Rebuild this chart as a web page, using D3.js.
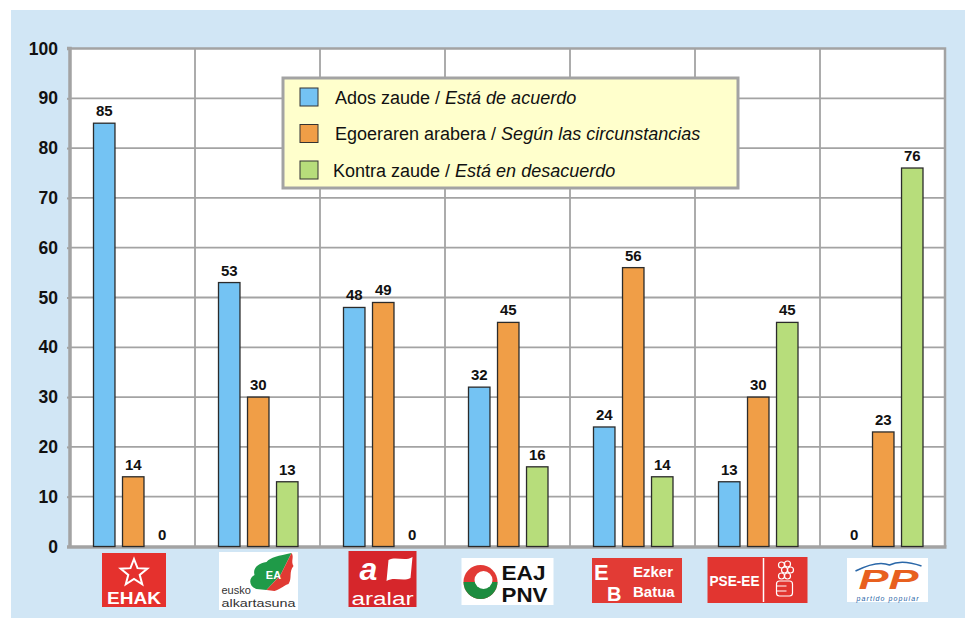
<!DOCTYPE html>
<html>
<head>
<meta charset="utf-8">
<script src="https://cdn.jsdelivr.net/npm/d3@7"></script>
<style>
  body { margin: 0; background: #fff; }
  svg { display: block; font-family: Arial, "Liberation Sans", sans-serif; }
</style>
</head>
<body>
<svg id="chart" width="965" height="618"></svg>
<script>
// data
const parties = ['EHAK', 'EA', 'Aralar', 'EAJ-PNV', 'EB', 'PSE-EE', 'PP'];
const seriesKeys = ['ados', 'egoera', 'kontra'];
const seriesBasque = ['Ados zaude / ', 'Egoeraren arabera / ', 'Kontra zaude / '];
const seriesSpanish = ['Está de acuerdo', 'Según las circunstancias', 'Está en desacuerdo'];
const adosValues = [85, 53, 48, 32, 24, 13, 0];
const egoeraValues = [14, 30, 49, 45, 56, 30, 23];
const kontraValues = [0, 13, 0, 16, 14, 45, 76];
const yTicks = [0, 10, 20, 30, 40, 50, 60, 70, 80, 90, 100];

const colors = { ados: '#74c3f3', egoera: '#f09e47', kontra: '#b7dd7b' };
const gridColor = '#a3a3a3';

const rows = parties.map((p, i) => ({
  party: p,
  ados: adosValues[i],
  egoera: egoeraValues[i],
  kontra: kontraValues[i]
}));

const svg = d3.select('#chart');

// light blue panel
svg.append('rect')
  .attr('x', 11).attr('y', 10)
  .attr('width', 954).attr('height', 608)
  .attr('fill', '#d1e6f5');

const plot = { left: 70, right: 945, top: 48.5, bottom: 546.5 };

const x0 = d3.scaleBand()
  .domain(parties)
  .range([plot.left, plot.right]);

const x1 = d3.scaleBand()
  .domain(seriesKeys)
  .range([23.5, 103])
  .paddingInner(0.26);

const y = d3.scaleLinear()
  .domain([0, 100])
  .range([plot.bottom, plot.top]);

// plot background
svg.append('rect')
  .attr('x', plot.left).attr('y', plot.top)
  .attr('width', plot.right - plot.left)
  .attr('height', plot.bottom - plot.top)
  .attr('fill', '#fff');

// horizontal grid
svg.append('g')
  .selectAll('line')
  .data(yTicks.slice(1, -1))
  .join('line')
  .attr('x1', plot.left).attr('x2', plot.right)
  .attr('y1', d => y(d)).attr('y2', d => y(d))
  .attr('stroke', gridColor)
  .attr('stroke-width', 1.8);

// vertical grid
svg.append('g')
  .selectAll('line')
  .data(parties.slice(1))
  .join('line')
  .attr('x1', d => x0(d)).attr('x2', d => x0(d))
  .attr('y1', plot.top).attr('y2', plot.bottom)
  .attr('stroke', gridColor)
  .attr('stroke-width', 1.8);

// top / right border
svg.append('path')
  .attr('d', `M${plot.left},${plot.top}H${plot.right}V${plot.bottom}`)
  .attr('fill', 'none')
  .attr('stroke', gridColor)
  .attr('stroke-width', 2.5);

// Y axis
const yAxis = svg.append('g')
  .attr('transform', `translate(${plot.left},0)`)
  .call(d3.axisLeft(y).tickValues(yTicks).tickSize(3).tickPadding(9));
yAxis.select('.domain')
  .attr('stroke', gridColor)
  .attr('stroke-width', 3.5)
  .attr('d', `M-3,${plot.top}H0V${plot.bottom}`);
yAxis.selectAll('.tick line').attr('stroke', gridColor).attr('stroke-width', 2);
yAxis.selectAll('text')
  .attr('font-size', 17.5)
  .attr('font-weight', 'bold')
  .attr('fill', '#111')
  .attr('font-family', 'Arial, "Liberation Sans", sans-serif');

// X axis line
svg.append('line')
  .attr('x1', plot.left - 3).attr('x2', plot.right + 1.5)
  .attr('y1', plot.bottom + 0.5).attr('y2', plot.bottom + 0.5)
  .attr('stroke', gridColor)
  .attr('stroke-width', 3.5);

// bars
const groups = svg.append('g')
  .selectAll('g')
  .data(rows)
  .join('g')
  .attr('transform', d => `translate(${x0(d.party)},0)`);

groups.selectAll('rect')
  .data(d => seriesKeys.map(k => ({ key: k, value: d[k] })).filter(d => d.value > 0))
  .join('rect')
  .attr('x', d => x1(d.key))
  .attr('y', d => y(d.value))
  .attr('width', x1.bandwidth())
  .attr('height', d => y(0) - y(d.value))
  .attr('fill', d => colors[d.key])
  .attr('stroke', '#2b2b2b')
  .attr('stroke-width', 1.3);

groups.selectAll('text')
  .data(d => seriesKeys.map(k => ({ key: k, value: d[k] })))
  .join('text')
  .attr('x', d => x1(d.key) + x1.bandwidth() / 2)
  .attr('y', d => y(d.value) - 7)
  .attr('text-anchor', 'middle')
  .attr('font-size', 15)
  .attr('font-weight', 'bold')
  .attr('fill', '#111')
  .text(d => d.value);

// legend
const legend = svg.append('g').attr('transform', 'translate(283,78)');
legend.append('rect')
  .attr('width', 455).attr('height', 110)
  .attr('fill', '#ffffcc')
  .attr('stroke', gridColor)
  .attr('stroke-width', 3);

const legendRows = legend.selectAll('g.item')
  .data(seriesKeys)
  .join('g')
  .attr('class', 'item')
  .attr('transform', (d, i) => `translate(0,${19 + i * 36.5})`);

legendRows.append('rect')
  .attr('x', 17).attr('y', -9)
  .attr('width', 18).attr('height', 18)
  .attr('fill', d => colors[d])
  .attr('stroke', '#333')
  .attr('stroke-width', 1);

const lt = legendRows.append('text')
  .attr('x', (d, i) => i === 2 ? 50 : 52)
  .attr('y', 6.5)
  .attr('font-size', 18)
  .attr('fill', '#111');
lt.append('tspan').text((d, i) => seriesBasque[i]);
lt.append('tspan').attr('font-style', 'italic').text((d, i) => seriesSpanish[i]);

// party logos
const logos = svg.append('g');
const cx = p => x0(p) + x0.bandwidth() / 2;

// EHAK
(function () {
  const c = cx('EHAK') + 1.5;
  const g = logos.append('g');
  g.append('rect').attr('x', c - 32).attr('y', 553).attr('width', 64).attr('height', 54).attr('fill', '#e5312d');
  const star = d3.range(10).map(i => {
    const r = i % 2 ? 6 : 14;
    const a = -Math.PI / 2 + i * Math.PI / 5;
    return [c + r * Math.cos(a), 573 + r * Math.sin(a)];
  });
  g.append('polygon').attr('points', star.join(' '))
    .attr('fill', 'none').attr('stroke', '#fff').attr('stroke-width', 2);
  g.append('text').attr('x', c).attr('y', 604).attr('text-anchor', 'middle')
    .attr('font-size', 17).attr('font-weight', 'bold').attr('fill', '#fff')
    .attr('textLength', 54).attr('lengthAdjust', 'spacingAndGlyphs').text('EHAK');
})();

// Eusko Alkartasuna
(function () {
  const c = cx('EA') + 1;
  const g = logos.append('g');
  g.append('rect').attr('x', c - 39.5).attr('y', 552).attr('width', 79).attr('height', 58).attr('fill', '#fff');
  g.append('path')
    .attr('d', `M${c + 33},553 C${c + 20},556 ${c + 12},557 ${c + 8},562 C${c},563 ${c - 6},568 ${c - 4},575 C${c - 10},578 ${c - 10},586 ${c - 2},589 L${c + 8},590 L${c + 22},575 Z`)
    .attr('fill', '#1f9a48');
  g.append('path')
    .attr('d', `M${c + 33},553 L${c + 22},575 L${c + 8},590 L${c + 16},591 C${c + 22},589 ${c + 26},585 ${c + 30},584 C${c + 34},578 ${c + 30},572 ${c + 35},566 C${c + 32},561 ${c + 36},557 ${c + 33},553 Z`)
    .attr('fill', '#e03a33');
  g.append('text').attr('x', c + 15).attr('y', 579).attr('text-anchor', 'middle')
    .attr('font-size', 11).attr('font-weight', 'bold').attr('fill', '#fff').text('EA');
  g.append('text').attr('x', c - 37).attr('y', 594).attr('font-size', 11).attr('fill', '#333').text('eusko');
  g.append('text').attr('x', c - 37).attr('y', 607).attr('font-size', 11).attr('fill', '#333')
    .attr('textLength', 74).attr('lengthAdjust', 'spacingAndGlyphs').text('alkartasuna');
})();

// Aralar
(function () {
  const c = cx('Aralar');
  const g = logos.append('g');
  g.append('rect').attr('x', c - 34).attr('y', 551).attr('width', 68).attr('height', 56).attr('fill', '#d6262b');
  g.append('text').attr('x', c - 14).attr('y', 580).attr('text-anchor', 'middle')
    .attr('font-size', 32).attr('font-weight', 'bold').attr('font-style', 'italic').attr('fill', '#fff').text('a');
  g.append('path')
    .attr('d', `M${c + 6},560 C${c + 14},556 ${c + 22},562 ${c + 30},557 L${c + 28},578 C${c + 20},582 ${c + 12},576 ${c + 4},581 Z`)
    .attr('fill', '#fff');
  g.append('text').attr('x', c).attr('y', 605).attr('text-anchor', 'middle')
    .attr('font-size', 18).attr('fill', '#fff')
    .attr('textLength', 62).attr('lengthAdjust', 'spacingAndGlyphs').text('aralar');
})();

// EAJ-PNV
(function () {
  const c = cx('EAJ-PNV');
  const g = logos.append('g');
  g.append('rect').attr('x', c - 46).attr('y', 558).attr('width', 92).attr('height', 47).attr('fill', '#fff');
  const ox = c - 27, oy = 582;
  g.append('circle').attr('cx', ox).attr('cy', oy).attr('r', 17).attr('fill', '#e23a35');
  g.append('path').attr('d', `M${ox - 17},${oy} A17,17 0 0 0 ${ox + 17},${oy} Z`).attr('fill', '#1e8c3f');
  g.append('circle').attr('cx', ox + 3).attr('cy', oy - 2).attr('r', 9).attr('fill', '#fff');
  g.append('text').attr('x', c - 6).attr('y', 580).attr('font-size', 21).attr('font-weight', 'bold').attr('fill', '#111')
    .attr('textLength', 44).attr('lengthAdjust', 'spacingAndGlyphs').text('EAJ');
  g.append('text').attr('x', c - 6).attr('y', 602).attr('font-size', 21).attr('font-weight', 'bold').attr('fill', '#111')
    .attr('textLength', 46).attr('lengthAdjust', 'spacingAndGlyphs').text('PNV');
})();

// Ezker Batua
(function () {
  const c = cx('EB') + 4.5;
  const g = logos.append('g');
  g.append('rect').attr('x', c - 45).attr('y', 558).attr('width', 90).attr('height', 45).attr('fill', '#e23b35');
  g.append('text').attr('x', c - 43).attr('y', 580).attr('font-size', 22).attr('font-weight', 'bold').attr('fill', '#fff').text('E');
  g.append('text').attr('x', c - 30).attr('y', 601).attr('font-size', 20).attr('font-weight', 'bold').attr('fill', '#fff').text('B');
  g.append('text').attr('x', c - 4).attr('y', 577).attr('font-size', 15).attr('font-weight', 'bold').attr('fill', '#fff').text('Ezker');
  g.append('text').attr('x', c - 4).attr('y', 597).attr('font-size', 15).attr('font-weight', 'bold').attr('fill', '#fff').text('Batua');
})();

// PSE-EE
(function () {
  const c = cx('PSE-EE');
  const g = logos.append('g');
  g.append('rect').attr('x', c - 50).attr('y', 557).attr('width', 100).attr('height', 46).attr('fill', '#e23530');
  g.append('text').attr('x', c - 48).attr('y', 586).attr('font-size', 14).attr('font-weight', 'bold').attr('fill', '#fff')
    .attr('textLength', 50).attr('lengthAdjust', 'spacingAndGlyphs').text('PSE-EE');
  g.append('line').attr('x1', c + 6).attr('x2', c + 6).attr('y1', 558).attr('y2', 602)
    .attr('stroke', '#fff').attr('stroke-width', 1.5);
  const fist = g.append('g').attr('fill', 'none').attr('stroke', '#fff').attr('stroke-width', 1.2);
  [[c + 24, 565], [c + 30, 564], [c + 27, 570], [c + 33, 570], [c + 24, 576], [c + 30, 576]].forEach(p => {
    fist.append('circle').attr('cx', p[0]).attr('cy', p[1]).attr('r', 3);
  });
  fist.append('rect').attr('x', c + 19).attr('y', 581).attr('width', 16).attr('height', 15).attr('rx', 3);
  fist.append('path').attr('d', `M${c + 19},586 H${c + 29} M${c + 19},591 H${c + 29}`);
})();

// PP
(function () {
  const c = cx('PP') + 5;
  const g = logos.append('g');
  g.append('rect').attr('x', c - 40.5).attr('y', 558).attr('width', 81).attr('height', 44).attr('fill', '#fff');
  g.append('path')
    .attr('d', `M${c - 32},571 Q${c - 10},560 ${c + 2},565 Q${c + 14},559 ${c + 34},566`)
    .attr('fill', 'none').attr('stroke', '#2a67a8').attr('stroke-width', 1.5);
  g.append('text').attr('x', c + 1).attr('y', 589).attr('text-anchor', 'middle')
    .attr('font-size', 27).attr('font-weight', 'bold').attr('font-style', 'italic').attr('fill', '#e8601e')
    .attr('textLength', 60).attr('lengthAdjust', 'spacingAndGlyphs').text('PP');
  g.append('text').attr('x', c).attr('y', 600.5).attr('text-anchor', 'middle')
    .attr('font-size', 7).attr('font-style', 'italic').attr('fill', '#2a67a8')
    .attr('textLength', 62).attr('lengthAdjust', 'spacing').text('partido  popular');
})();
</script>
</body>
</html>
